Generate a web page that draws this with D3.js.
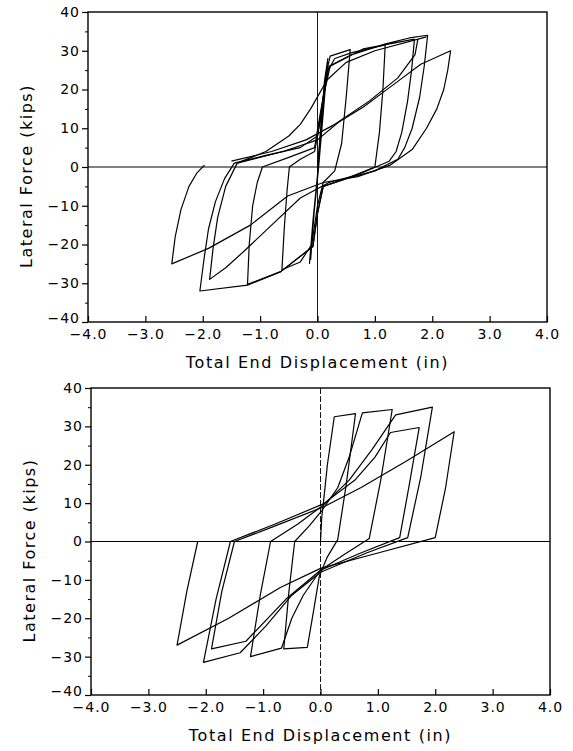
<!DOCTYPE html>
<html>
<head>
<meta charset="utf-8">
<script src="https://cdn.jsdelivr.net/npm/d3@7"></script>
<style>
  body { margin: 0; background: #fff; }
  text { font-family: "DejaVu Sans", sans-serif; fill: #000; }
</style>
</head>
<body>
<div id="chart"></div>
<script>
// axis ticks (shared by both panels)
var xTicks = [-4, -3, -2, -1, 0, 1, 2, 3, 4];
var yTicks = [-40, -30, -20, -10, 0, 10, 20, 30, 40];
var yMinor = [-35, -25, -15, -5, 5, 15, 25, 35];

// top panel, [displacement (in), force (kips)]
var topCore = [[-0.14,-25],[-0.08,-14],[0.0,-2],[0.06,10],[0.12,22],[0.18,28],[0.1,14],[0.02,0],[-0.06,-12],[-0.12,-24]];
var topCycle1 = [[0,0],[0.08,14],[0.15,24],[0.22,28.6],[0.57,30.3],[0.5,18],[0.42,6],[0.3,-1],[0.1,-4],[0.0,-10],[-0.1,-20],[-0.3,-24.5],[-0.62,-26.5],[-0.58,-16],[-0.53,-6],[-0.49,0],[-0.3,2],[-0.05,4],[0.05,12],[0.15,24],[0.3,28]];
var topCycle2 = [[0.3,28],[0.6,29.5],[1.18,31.5],[1.14,20],[1.08,9],[1.0,0],[0.5,-3],[0.1,-5],[0.0,-12],[-0.08,-20.5],[-0.64,-27],[-1.22,-30.3],[-1.19,-20],[-1.13,-10],[-1.05,-4],[-0.96,0],[-0.5,2.5],[-0.05,5],[0.05,14],[0.2,26],[0.6,29]];
var topCycle3 = [[0.6,29],[1.17,31.7],[1.6,33.3],[1.92,34],[1.86,26],[1.78,18],[1.65,10],[1.52,5],[1.4,2],[1.0,-1],[0.5,-3],[0.1,-5],[0.0,-12],[-0.08,-20.5],[-0.64,-27],[-1.22,-30.5],[-2.05,-32],[-1.98,-24],[-1.9,-16],[-1.78,-9],[-1.62,-3],[-1.45,1],[-0.9,3],[-0.3,5],[0.0,8],[0.1,18],[0.22,26],[0.8,30.5],[1.69,33]];
var topCycle4 = [[1.69,33],[1.64,25],[1.57,17],[1.47,9],[1.37,4],[1.25,1.5],[0.7,-2],[0.2,-4],[-0.3,-8],[-0.8,-15],[-1.3,-22],[-1.6,-26],[-1.88,-29],[-1.82,-21],[-1.74,-13],[-1.6,-5],[-1.4,1],[-0.9,4],[-0.5,8],[-0.3,11],[-0.12,15],[0.17,22.5],[0.5,27],[1.0,30],[1.9,33.6]];
var topCycle5 = [[-1.5,1.5],[-0.8,4],[-0.2,7],[0.3,11],[0.8,15.5],[1.3,21],[1.8,26.5],[2.32,30],[2.27,25],[2.2,20],[2.08,15],[1.9,10],[1.65,4.5],[1.27,0.5],[0.7,-2.5],[0.1,-4],[-0.52,-7.5],[-1.17,-15],[-1.9,-21],[-2.54,-25],[-2.48,-18],[-2.38,-11],[-2.24,-5],[-2.1,-1.5],[-1.97,0.5]];
var topCycle6 = [[-1.4,1],[-0.6,4],[0.0,7],[0.4,12],[0.9,17],[1.4,23],[1.7,29],[1.75,33]];

// bottom panel
var botCycle1 = [[0,0],[0.02,6],[0.05,10],[0.12,20],[0.24,32.5],[0.61,33.3],[0.45,15],[0.3,0.5],[0.12,-4],[-0.02,-9],[-0.12,-18],[-0.23,-27.6],[-0.64,-28],[-0.55,-13],[-0.45,0],[-0.2,4],[0.02,8]];
var botCycle2 = [[0.02,8],[0.3,14],[0.5,22],[0.73,33.5],[1.25,34.4],[1.05,16],[0.85,0.8],[0.4,-3.5],[0.0,-7.5],[-0.3,-14],[-0.5,-20],[-0.68,-27.8],[-1.22,-30],[-1.05,-14],[-0.87,0],[-0.4,4.5],[0.05,9.5]];
var botCycle3 = [[0.05,9.5],[0.5,16],[0.9,24],[1.31,33],[1.95,35],[1.75,17],[1.52,1],[0.8,-3],[0.0,-8],[-0.5,-14],[-0.95,-22],[-1.4,-29],[-2.04,-31.5],[-1.82,-15],[-1.57,0],[-0.8,4.5],[0.05,9.8]];
var botCycle4 = [[0.05,9.8],[0.6,16],[0.95,22],[1.22,28.4],[1.72,29.7],[1.55,15],[1.38,1],[0.7,-3],[0.0,-7.5],[-0.6,-15],[-1.3,-26],[-1.9,-28],[-1.72,-13],[-1.5,0],[-0.8,4],[0.05,9]];
var botCycle5 = [[0.05,9],[0.7,14],[1.5,21],[2.33,28.6],[2.18,14],[2.0,1],[1.0,-3],[0.0,-7],[-0.7,-12],[-1.6,-20],[-2.5,-27],[-2.33,-13],[-2.14,0]];

var svg = d3.select("#chart").append("svg")
    .attr("width", 573)
    .attr("height", 751);

function minus(s) { return String(s).replace("-", "\u2212"); }

function drawPanel(box, loops, zeroDash) {
  var x = d3.scaleLinear().domain([-4, 4]).range([box.left, box.right]);
  var y = d3.scaleLinear().domain([-40, 40]).range([box.bottom, box.top]);
  var g = svg.append("g");

  // zero lines
  g.append("line")
    .attr("x1", x(-4)).attr("x2", x(4))
    .attr("y1", y(0)).attr("y2", y(0))
    .attr("stroke", "#000").attr("stroke-width", 1.2);
  g.append("line")
    .attr("x1", x(0)).attr("x2", x(0))
    .attr("y1", y(40)).attr("y2", y(-40))
    .attr("stroke", "#000").attr("stroke-width", 0.9)
    .attr("stroke-dasharray", zeroDash);

  // the loops
  var line = d3.line()
    .x(function(d) { return x(d[0]); })
    .y(function(d) { return y(d[1]); });
  g.selectAll(".loop")
      .data(loops)
    .enter().append("path")
      .attr("class", "loop")
      .attr("d", line)
      .attr("fill", "none")
      .attr("stroke", "#000")
      .attr("stroke-width", 1.2)
      .attr("stroke-linejoin", "round");

  // frame
  g.append("rect")
    .attr("x", x(-4)).attr("y", y(40))
    .attr("width", x(4) - x(-4)).attr("height", y(-40) - y(40))
    .attr("fill", "none").attr("stroke", "#000").attr("stroke-width", 1.4);

  // y axis, major + minor
  var ya = g.append("g")
    .attr("transform", "translate(" + x(-4) + ",0)")
    .call(d3.axisLeft(y).tickValues(yTicks).tickSize(6).tickPadding(2)
      .tickFormat(function(d) { return minus(d); }));
  ya.select(".domain").remove();
  ya.selectAll("text").style("font-size", "14px").style("letter-spacing", "1px").attr("font-family", null);
  // lift the bottom label a little so it clears the -4.0 below it
  ya.selectAll("text").filter(function(d) { return d === -40; }).attr("dy", "0em");
  ya.selectAll("line").attr("stroke-width", 1.2);
  var ym = g.append("g")
    .attr("transform", "translate(" + x(-4) + ",0)")
    .call(d3.axisLeft(y).tickValues(yMinor).tickSize(3).tickFormat(""));
  ym.select(".domain").remove();

  // x axis, ticks point up into the plot
  var xa = g.append("g")
    .attr("transform", "translate(0," + y(-40) + ")")
    .call(d3.axisBottom(x).tickValues(xTicks).tickSizeInner(-6).tickSizeOuter(0).tickPadding(7)
      .tickFormat(function(d) { return minus(d3.format(".1f")(d)); }));
  xa.select(".domain").remove();
  xa.selectAll("text").style("font-size", "14px").style("letter-spacing", "1px").attr("font-family", null);
  xa.selectAll("line").attr("stroke-width", 1.2);

  // titles
  svg.append("text")
    .attr("x", (box.left + box.right) / 2)
    .attr("y", box.bottom + 46)
    .attr("text-anchor", "middle")
    .style("font-size", "16px")
    .style("letter-spacing", "1.6px")
    .text("Total End Displacement (in)");
  svg.append("text")
    .attr("transform", "translate(" + (box.left - 56) + "," + ((box.top + box.bottom) / 2 + 9) + ") rotate(-90)")
    .attr("text-anchor", "middle")
    .style("font-size", "16px")
    .style("letter-spacing", "1.5px")
    .text("Lateral Force (kips)");
}

drawPanel({left: 88, right: 547, top: 12, bottom: 322},
  [topCore, topCycle1, topCycle2, topCycle3, topCycle4, topCycle5, topCycle6], null);

drawPanel({left: 91, right: 550, top: 388, bottom: 695},
  [botCycle1, botCycle2, botCycle3, botCycle4, botCycle5], "6,2");
</script>
</body>
</html>
